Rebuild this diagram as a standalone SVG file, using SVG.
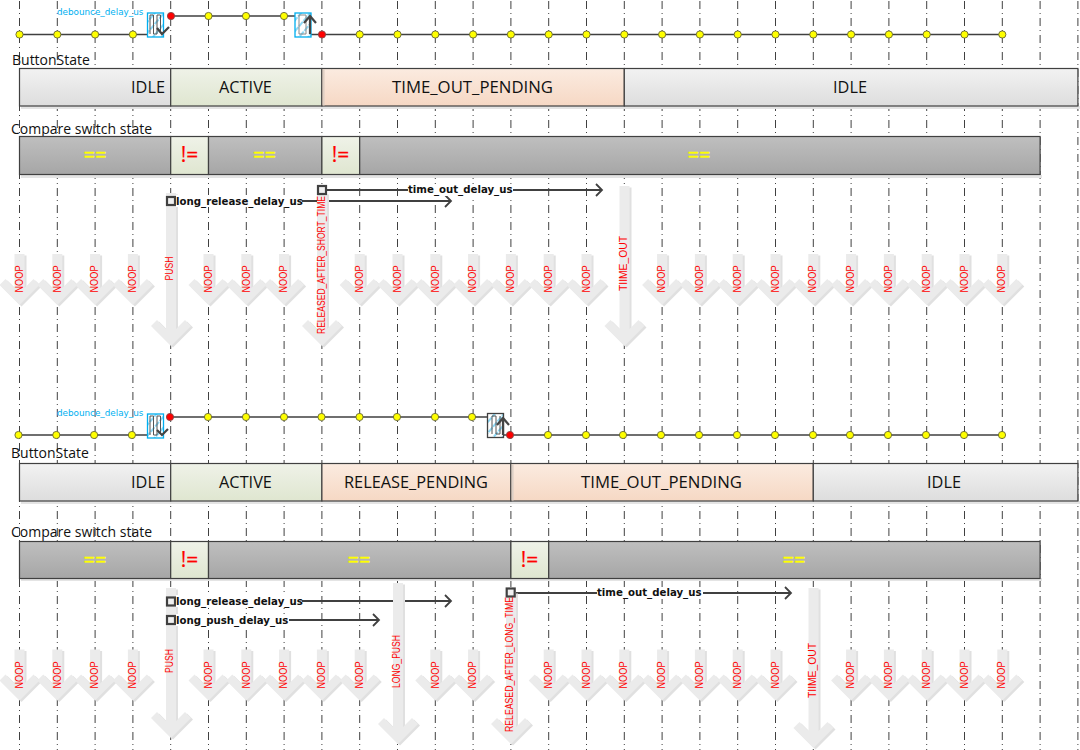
<svg xmlns="http://www.w3.org/2000/svg" width="1080" height="750" viewBox="0 0 1080 750">
<style>
.grid{stroke:#404040;stroke-width:1;stroke-dasharray:8 4 1 4;fill:none}
.seg{stroke:#404040;stroke-width:1.2}
.sig{stroke:#404040;stroke-width:1.3;fill:none}
.st{font:16.3px "Open Sans",sans-serif;fill:#111;text-anchor:middle}
.ttl{font:14px "Open Sans",sans-serif;fill:#111}
.cmpY{font:20px "Open Sans",sans-serif;fill:#ffff00;stroke:#ffff00;stroke-width:.4;text-anchor:middle}
.cmpR{font:21px "Open Sans",sans-serif;fill:#ff0000;stroke:#ff0000;stroke-width:.2;text-anchor:middle}
.dl{font:bold 10.2px "DejaVu Sans",sans-serif;fill:#111}
.lb{fill:#fff;stroke:none}
.ev{font:10px "Liberation Sans",sans-serif;fill:#ff0000;text-anchor:middle}
.deb{font:8.8px "DejaVu Sans",sans-serif;fill:#00b0f0}
.y{fill:#ffff00;stroke:#666633;stroke-width:.9}
.r{fill:#ff0000;stroke:#884444;stroke-width:.9}
.tri{fill:url(#hat);stroke:#00aeef;stroke-width:1.3}
.gl{fill:none;stroke:#555;stroke-width:1}
.ar{fill:none;stroke:#444;stroke-width:2.2}
.sq{fill:#f0f0f0;stroke:#404040;stroke-width:2.2}
.dline{stroke:#404040;stroke-width:1.8;fill:none;marker-end:url(#oh)}
.aS{fill:#e0e0e0}
.aM{fill:#ebebeb}
.shd{fill:#e4e4e4}
</style>
<defs>
<linearGradient id="gG" x1="0" y1="0" x2="0" y2="1"><stop offset="0" stop-color="#f2f2f2"/><stop offset="1" stop-color="#dddddd"/></linearGradient>
<linearGradient id="gV" x1="0" y1="0" x2="0" y2="1"><stop offset="0" stop-color="#eff2e8"/><stop offset="1" stop-color="#dfe6d0"/></linearGradient>
<linearGradient id="gO" x1="0" y1="0" x2="0" y2="1"><stop offset="0" stop-color="#fbebe0"/><stop offset="1" stop-color="#f6d8c4"/></linearGradient>
<linearGradient id="gD" x1="0" y1="0" x2="0" y2="1"><stop offset="0" stop-color="#bfbfbf"/><stop offset="1" stop-color="#a6a6a6"/></linearGradient>
<pattern id="hat" width="7" height="7" patternUnits="userSpaceOnUse" patternTransform="rotate(40)"><rect width="7" height="7" fill="#fff"/><line x1="1" y1="0" x2="1" y2="7" stroke="#5cc8f2" stroke-width="1.4" stroke-dasharray="3 1"/></pattern>
<marker id="oh" markerUnits="userSpaceOnUse" markerWidth="12" markerHeight="14" refX="9" refY="7" orient="auto"><path d="M3,1 L9,7 L3,13" fill="none" stroke="#404040" stroke-width="1.8"/></marker>
<g id="noop"><path class="aS" transform="translate(2,1.5)" d="M-5,-51H5V-17L14,-26L20,-20L0,0L-20,-20L-14,-26L-5,-17Z"/><path class="aM" d="M-5,-51H5V-17L14,-26L20,-20L0,0L-20,-20L-14,-26L-5,-17Z"/></g>
</defs>
<rect width="1080" height="750" fill="#fff"/>
<g id="grid">
<path class="grid" d="M19.5,1V750M57.3,1V750M95.1,1V750M132.9,1V750M170.7,1V750M208.5,1V750M246.3,1V750M284.1,1V750M321.9,1V750M359.7,1V750M397.5,1V750M435.3,1V750M473.1,1V750M510.9,1V750M548.7,1V750M586.5,1V750M624.3,1V750M662.1,1V750M699.9,1V750M737.7,1V750M775.5,1V750M813.3,1V750M851.1,1V750M888.9,1V750M926.7,1V750M964.5,1V750M1002.3,1V750M1040.1,1V750M1077.9,1V750"/>
</g>
<g id="connectors">
<path class="sig" d="M19,34.5H148M171,16H295M310,34.5H1002"/>
<path class="sig" d="M18,435H148M170,417H488M503,435H1002"/>
<path class="dline" d="M326,190H602"/>
<path class="dline" d="M175,201H451"/>
<path class="dline" d="M175,601H451"/>
<path class="dline" d="M175,620H379"/>
<path class="dline" d="M514,593H791"/>
</g>
<g id="pulse-top-1"><rect class="tri" x="147.5" y="13" width="16" height="24"/><path class="gl" d="M150,34V15H153.5V34H157V15H160.500V32"/><path class="ar" d="M157,28L162,34L169,27"/></g>
<g id="pulse-top-2"><rect class="tri" x="295" y="13" width="16" height="24"/><path class="gl" style="stroke:#888" d="M299,15H306V34H299Z"/><path class="ar" d="M310,34V16M304,23L310,16L316,23"/></g>
<g id="pulse-bot-1"><rect class="tri" x="147.5" y="414" width="16" height="24"/><path class="gl" d="M150,435V416H153.5V435H157V416H160.5V433"/><path class="ar" d="M157,430L162,435L168,429"/></g>
<g id="pulse-bot-2"><rect class="tri" style="stroke:#404040" x="487.5" y="413.500" width="16" height="24"/><path class="gl" d="M492,434V416H496V434H500V416"/><path class="ar" d="M503,435V418M497,425L503,418L509,425"/></g>
<g id="dots-top"><circle class="y" cx="19.500" cy="34.500" r="3.600"/><circle class="y" cx="57.300" cy="34.500" r="3.600"/><circle class="y" cx="95.100" cy="34.500" r="3.600"/><circle class="y" cx="132.900" cy="34.500" r="3.600"/><circle class="r" cx="171" cy="16" r="3.600"/><circle class="y" cx="208.500" cy="16" r="3.600"/><circle class="y" cx="246" cy="16" r="3.600"/><circle class="y" cx="284" cy="16" r="3.600"/><circle class="r" cx="322" cy="34.500" r="3.600"/><circle class="y" cx="359.700" cy="34.500" r="3.600"/><circle class="y" cx="397.500" cy="34.500" r="3.600"/><circle class="y" cx="435.300" cy="34.500" r="3.600"/><circle class="y" cx="473.100" cy="34.500" r="3.600"/><circle class="y" cx="510.900" cy="34.500" r="3.600"/><circle class="y" cx="548.700" cy="34.500" r="3.600"/><circle class="y" cx="586.500" cy="34.500" r="3.600"/><circle class="y" cx="624.300" cy="34.500" r="3.600"/><circle class="y" cx="662.100" cy="34.500" r="3.600"/><circle class="y" cx="699.900" cy="34.500" r="3.600"/><circle class="y" cx="737.700" cy="34.500" r="3.600"/><circle class="y" cx="775.500" cy="34.500" r="3.600"/><circle class="y" cx="813.300" cy="34.500" r="3.600"/><circle class="y" cx="851.100" cy="34.500" r="3.600"/><circle class="y" cx="888.900" cy="34.500" r="3.600"/><circle class="y" cx="926.700" cy="34.500" r="3.600"/><circle class="y" cx="964.500" cy="34.500" r="3.600"/><circle class="y" cx="1002.300" cy="34.500" r="3.600"/></g>
<g id="dots-bottom"><circle class="y" cx="18.500" cy="435" r="3.600"/><circle class="y" cx="56.300" cy="435" r="3.600"/><circle class="y" cx="94.100" cy="435" r="3.600"/><circle class="y" cx="131.900" cy="435" r="3.600"/><circle class="r" cx="170" cy="417" r="3.600"/><circle class="y" cx="208" cy="417" r="3.600"/><circle class="y" cx="246" cy="417" r="3.600"/><circle class="y" cx="284" cy="417" r="3.600"/><circle class="y" cx="321.500" cy="417" r="3.600"/><circle class="y" cx="359.500" cy="417" r="3.600"/><circle class="y" cx="397" cy="417" r="3.600"/><circle class="y" cx="435" cy="417" r="3.600"/><circle class="y" cx="472" cy="417" r="3.600"/><circle class="r" cx="510" cy="435" r="3.600"/><circle class="y" cx="548" cy="435" r="3.600"/><circle class="y" cx="586" cy="435" r="3.600"/><circle class="y" cx="623" cy="435" r="3.600"/><circle class="y" cx="661" cy="435" r="3.600"/><circle class="y" cx="699" cy="435" r="3.600"/><circle class="y" cx="737" cy="435" r="3.600"/><circle class="y" cx="775" cy="435" r="3.600"/><circle class="y" cx="813" cy="435" r="3.600"/><circle class="y" cx="850" cy="435" r="3.600"/><circle class="y" cx="888" cy="435" r="3.600"/><circle class="y" cx="926" cy="435" r="3.600"/><circle class="y" cx="964" cy="435" r="3.600"/><circle class="y" cx="1002" cy="435" r="3.600"/></g>
<text class="deb" x="57" y="14.500">debounce_delay_us</text>
<text class="deb" x="57" y="416">debounce_delay_us</text>
<text class="ttl" x="12" y="64.500">ButtonState</text>
<text class="ttl" x="11" y="134">Compare switch state</text>
<text class="ttl" x="11" y="457.500">ButtonState</text>
<text class="ttl" x="11" y="537">Compare switch state</text>
<rect class="shd" x="21" y="106" width="1059" height="3"/><rect class="shd" x="21" y="175" width="1021" height="3"/><rect class="shd" x="21" y="501" width="1059" height="3"/><rect class="shd" x="21" y="578" width="1021" height="3"/>
<g id="state-top-idle1"><rect class="seg" x="19.500" y="68.500" width="151.200" height="37.500" fill="url(#gG)"/><text class="st" x="148" y="93">IDLE</text></g>
<g id="state-top-active"><rect class="seg" x="170.700" y="68.500" width="151.200" height="37.500" fill="url(#gV)"/><text class="st" x="245.500" y="93">ACTIVE</text></g>
<g id="state-top-pending"><rect class="seg" x="321.900" y="68.500" width="302.400" height="37.500" fill="url(#gO)"/><rect x="322.600" y="69" width="2" height="36.500" fill="#e0d0c4"/><text class="st" x="472.500" y="93" textLength="161" lengthAdjust="spacingAndGlyphs">TIME_OUT_PENDING</text></g>
<g id="state-top-idle2"><rect class="seg" x="624.300" y="68.500" width="453.600" height="37.500" fill="url(#gG)"/><text class="st" x="850" y="93">IDLE</text></g>
<g id="cmp-top-1"><rect class="seg" x="19.500" y="136.500" width="151.200" height="38" fill="url(#gD)"/><text class="cmpY" x="95" y="162">==</text></g>
<g id="cmp-top-2"><rect class="seg" x="170.700" y="136.500" width="37.800" height="38" fill="url(#gV)"/><text class="cmpR" x="189.500" y="162">!=</text></g>
<g id="cmp-top-3"><rect class="seg" x="208.500" y="136.500" width="113.400" height="38" fill="url(#gD)"/><text class="cmpY" x="264.500" y="162">==</text></g>
<g id="cmp-top-4"><rect class="seg" x="321.900" y="136.500" width="37.800" height="38" fill="url(#gV)"/><text class="cmpR" x="340.500" y="162">!=</text></g>
<g id="cmp-top-5"><rect class="seg" x="359.700" y="136.500" width="680.400" height="38" fill="url(#gD)"/><text class="cmpY" x="699" y="162">==</text></g>
<g id="state-bot-idle1"><rect class="seg" x="19.500" y="463.500" width="151.200" height="37.500" fill="url(#gG)"/><text class="st" x="148" y="488">IDLE</text></g>
<g id="state-bot-active"><rect class="seg" x="170.700" y="463.500" width="151.200" height="37.500" fill="url(#gV)"/><text class="st" x="245.500" y="488">ACTIVE</text></g>
<g id="state-bot-release"><rect class="seg" x="321.900" y="463.500" width="189" height="37.500" fill="url(#gO)"/><text class="st" x="416" y="488" textLength="144" lengthAdjust="spacingAndGlyphs">RELEASE_PENDING</text></g>
<g id="state-bot-timeout"><rect class="seg" x="510.900" y="463.500" width="302.400" height="37.500" fill="url(#gO)"/><rect x="511.600" y="464" width="2" height="36.500" fill="#ddd0c6"/><text class="st" x="661.500" y="488" textLength="161" lengthAdjust="spacingAndGlyphs">TIME_OUT_PENDING</text></g>
<g id="state-bot-idle2"><rect class="seg" x="813.300" y="463.500" width="264.600" height="37.500" fill="url(#gG)"/><text class="st" x="944" y="488">IDLE</text></g>
<g id="cmp-bot-1"><rect class="seg" x="19.500" y="541.500" width="151.200" height="37" fill="url(#gD)"/><text class="cmpY" x="95" y="567">==</text></g>
<g id="cmp-bot-2"><rect class="seg" x="170.700" y="541.500" width="37.800" height="37" fill="url(#gV)"/><text class="cmpR" x="189.500" y="567">!=</text></g>
<g id="cmp-bot-3"><rect class="seg" x="208.500" y="541.500" width="302.400" height="37" fill="url(#gD)"/><text class="cmpY" x="359" y="567">==</text></g>
<g id="cmp-bot-4"><rect class="seg" x="510.900" y="541.500" width="37.800" height="37" fill="url(#gV)"/><text class="cmpR" x="529.500" y="567">!=</text></g>
<g id="cmp-bot-5"><rect class="seg" x="548.700" y="541.500" width="491.400" height="37" fill="url(#gD)"/><text class="cmpY" x="794" y="567">==</text></g>
<g id="events-top">
<use href="#noop" x="19.500" y="305"/><use href="#noop" x="57.300" y="305"/><use href="#noop" x="95.100" y="305"/><use href="#noop" x="132.900" y="305"/><use href="#noop" x="208.500" y="305"/><use href="#noop" x="246.300" y="305"/><use href="#noop" x="284.100" y="305"/><use href="#noop" x="359.700" y="305"/><use href="#noop" x="397.500" y="305"/><use href="#noop" x="435.300" y="305"/><use href="#noop" x="473.100" y="305"/><use href="#noop" x="510.900" y="305"/><use href="#noop" x="548.700" y="305"/><use href="#noop" x="586.500" y="305"/><use href="#noop" x="662.100" y="305"/><use href="#noop" x="699.900" y="305"/><use href="#noop" x="737.700" y="305"/><use href="#noop" x="775.500" y="305"/><use href="#noop" x="813.300" y="305"/><use href="#noop" x="851.100" y="305"/><use href="#noop" x="888.900" y="305"/><use href="#noop" x="926.700" y="305"/><use href="#noop" x="964.500" y="305"/><use href="#noop" x="1002.300" y="305"/>
<g transform="translate(171,346)"><path class="aS" transform="translate(2,1.500)" d="M-5,-153H5V-17L14,-26L20,-20L0,0L-20,-20L-14,-26L-5,-17Z"/><path class="aM" d="M-5,-153H5V-17L14,-26L20,-20L0,0L-20,-20L-14,-26L-5,-17Z"/></g>
<g transform="translate(322,346)"><path class="aS" transform="translate(2,1.500)" d="M-5,-153H5V-17L14,-26L20,-20L0,0L-20,-20L-14,-26L-5,-17Z"/><path class="aM" d="M-5,-153H5V-17L14,-26L20,-20L0,0L-20,-20L-14,-26L-5,-17Z"/></g>
<g transform="translate(624.500,346)"><path class="aS" transform="translate(2,1.500)" d="M-5,-160H5V-17L14,-26L20,-20L0,0L-20,-20L-14,-26L-5,-17Z"/><path class="aM" d="M-5,-160H5V-17L14,-26L20,-20L0,0L-20,-20L-14,-26L-5,-17Z"/></g>
</g>
<g id="events-bottom">
<use href="#noop" x="19.500" y="700.500"/><use href="#noop" x="57.300" y="700.500"/><use href="#noop" x="95.100" y="700.500"/><use href="#noop" x="132.900" y="700.500"/><use href="#noop" x="208.500" y="700.500"/><use href="#noop" x="246.300" y="700.500"/><use href="#noop" x="284.100" y="700.500"/><use href="#noop" x="321.900" y="700.500"/><use href="#noop" x="359.700" y="700.500"/><use href="#noop" x="435.300" y="700.500"/><use href="#noop" x="473.100" y="700.500"/><use href="#noop" x="548.700" y="700.500"/><use href="#noop" x="586.500" y="700.500"/><use href="#noop" x="624.300" y="700.500"/><use href="#noop" x="662.100" y="700.500"/><use href="#noop" x="699.900" y="700.500"/><use href="#noop" x="737.700" y="700.500"/><use href="#noop" x="775.500" y="700.500"/><use href="#noop" x="851.100" y="700.500"/><use href="#noop" x="888.900" y="700.500"/><use href="#noop" x="926.700" y="700.500"/><use href="#noop" x="964.500" y="700.500"/><use href="#noop" x="1002.300" y="700.500"/>
<g transform="translate(171,738)"><path class="aS" transform="translate(2,1.500)" d="M-5,-150H5V-17L14,-26L20,-20L0,0L-20,-20L-14,-26L-5,-17Z"/><path class="aM" d="M-5,-150H5V-17L14,-26L20,-20L0,0L-20,-20L-14,-26L-5,-17Z"/></g>
<g transform="translate(398,744)"><path class="aS" transform="translate(2,1.500)" d="M-5,-161H5V-17L14,-26L20,-20L0,0L-20,-20L-14,-26L-5,-17Z"/><path class="aM" d="M-5,-161H5V-17L14,-26L20,-20L0,0L-20,-20L-14,-26L-5,-17Z"/></g>
<g transform="translate(511,744)"><path class="aS" transform="translate(2,1.500)" d="M-5,-152H5V-17L14,-26L20,-20L0,0L-20,-20L-14,-26L-5,-17Z"/><path class="aM" d="M-5,-152H5V-17L14,-26L20,-20L0,0L-20,-20L-14,-26L-5,-17Z"/></g>
<g transform="translate(813.500,748)"><path class="aS" transform="translate(2,1.500)" d="M-5,-160H5V-17L14,-26L20,-20L0,0L-20,-20L-14,-26L-5,-17Z"/><path class="aM" d="M-5,-160H5V-17L14,-26L20,-20L0,0L-20,-20L-14,-26L-5,-17Z"/></g>
</g>
<g id="delay-top-timeout"><rect class="sq" x="318" y="186" width="8" height="8"/><rect class="lb" x="408" y="184" width="105" height="12"/><text class="dl" x="408" y="193">time_out_delay_us</text></g>
<g id="delay-top-release"><rect class="sq" x="167" y="197" width="8" height="8"/><rect class="lb" x="176" y="195" width="126" height="12"/><text class="dl" x="176" y="204.500">long_release_delay_us</text></g>
<g id="delay-bot-release"><rect class="sq" x="167" y="597.500" width="8" height="8"/><rect class="lb" x="176" y="595" width="126" height="12"/><text class="dl" x="176" y="604.500">long_release_delay_us</text></g>
<g id="delay-bot-push"><rect class="sq" x="167" y="616" width="8" height="8"/><rect class="lb" x="176" y="614" width="113" height="12"/><text class="dl" x="176" y="623.500">long_push_delay_us</text></g>
<g id="delay-bot-timeout"><rect class="sq" x="506.700" y="588.500" width="8" height="8"/><rect class="lb" x="597" y="587" width="106" height="12"/><text class="dl" x="597" y="596">time_out_delay_us</text></g>
<g id="event-labels">
<text class="ev" textLength="27" lengthAdjust="spacingAndGlyphs" transform="translate(22.500,279) rotate(-90)">NOOP</text><text class="ev" textLength="27" lengthAdjust="spacingAndGlyphs" transform="translate(60.500,279) rotate(-90)">NOOP</text><text class="ev" textLength="27" lengthAdjust="spacingAndGlyphs" transform="translate(98,279) rotate(-90)">NOOP</text><text class="ev" textLength="27" lengthAdjust="spacingAndGlyphs" transform="translate(136,279) rotate(-90)">NOOP</text><text class="ev" textLength="27" lengthAdjust="spacingAndGlyphs" transform="translate(211.500,279) rotate(-90)">NOOP</text><text class="ev" textLength="27" lengthAdjust="spacingAndGlyphs" transform="translate(249.500,279) rotate(-90)">NOOP</text><text class="ev" textLength="27" lengthAdjust="spacingAndGlyphs" transform="translate(287,279) rotate(-90)">NOOP</text><text class="ev" textLength="27" lengthAdjust="spacingAndGlyphs" transform="translate(362.500,279) rotate(-90)">NOOP</text><text class="ev" textLength="27" lengthAdjust="spacingAndGlyphs" transform="translate(400.500,279) rotate(-90)">NOOP</text><text class="ev" textLength="27" lengthAdjust="spacingAndGlyphs" transform="translate(438.500,279) rotate(-90)">NOOP</text><text class="ev" textLength="27" lengthAdjust="spacingAndGlyphs" transform="translate(476,279) rotate(-90)">NOOP</text><text class="ev" textLength="27" lengthAdjust="spacingAndGlyphs" transform="translate(513.500,279) rotate(-90)">NOOP</text><text class="ev" textLength="27" lengthAdjust="spacingAndGlyphs" transform="translate(551.500,279) rotate(-90)">NOOP</text><text class="ev" textLength="27" lengthAdjust="spacingAndGlyphs" transform="translate(589.500,279) rotate(-90)">NOOP</text><text class="ev" textLength="27" lengthAdjust="spacingAndGlyphs" transform="translate(665,279) rotate(-90)">NOOP</text><text class="ev" textLength="27" lengthAdjust="spacingAndGlyphs" transform="translate(702.500,279) rotate(-90)">NOOP</text><text class="ev" textLength="27" lengthAdjust="spacingAndGlyphs" transform="translate(740.500,279) rotate(-90)">NOOP</text><text class="ev" textLength="27" lengthAdjust="spacingAndGlyphs" transform="translate(778.500,279) rotate(-90)">NOOP</text><text class="ev" textLength="27" lengthAdjust="spacingAndGlyphs" transform="translate(816,279) rotate(-90)">NOOP</text><text class="ev" textLength="27" lengthAdjust="spacingAndGlyphs" transform="translate(854,279) rotate(-90)">NOOP</text><text class="ev" textLength="27" lengthAdjust="spacingAndGlyphs" transform="translate(891.500,279) rotate(-90)">NOOP</text><text class="ev" textLength="27" lengthAdjust="spacingAndGlyphs" transform="translate(929.500,279) rotate(-90)">NOOP</text><text class="ev" textLength="27" lengthAdjust="spacingAndGlyphs" transform="translate(967.500,279) rotate(-90)">NOOP</text><text class="ev" textLength="27" lengthAdjust="spacingAndGlyphs" transform="translate(1005,279) rotate(-90)">NOOP</text>
<text class="ev" textLength="24" lengthAdjust="spacingAndGlyphs" transform="translate(173,268.500) rotate(-90)">PUSH</text><text class="ev" textLength="138" lengthAdjust="spacingAndGlyphs" transform="translate(325,265) rotate(-90)">RELEASED_AFTER_SHORT_TIME</text><text class="ev" textLength="55" lengthAdjust="spacingAndGlyphs" transform="translate(627,263.500) rotate(-90)">TIIME_OUT</text>
<text class="ev" textLength="27" lengthAdjust="spacingAndGlyphs" transform="translate(22.500,675) rotate(-90)">NOOP</text><text class="ev" textLength="27" lengthAdjust="spacingAndGlyphs" transform="translate(60.500,675) rotate(-90)">NOOP</text><text class="ev" textLength="27" lengthAdjust="spacingAndGlyphs" transform="translate(98,675) rotate(-90)">NOOP</text><text class="ev" textLength="27" lengthAdjust="spacingAndGlyphs" transform="translate(136,675) rotate(-90)">NOOP</text><text class="ev" textLength="27" lengthAdjust="spacingAndGlyphs" transform="translate(211.500,675) rotate(-90)">NOOP</text><text class="ev" textLength="27" lengthAdjust="spacingAndGlyphs" transform="translate(249.500,675) rotate(-90)">NOOP</text><text class="ev" textLength="27" lengthAdjust="spacingAndGlyphs" transform="translate(287,675) rotate(-90)">NOOP</text><text class="ev" textLength="27" lengthAdjust="spacingAndGlyphs" transform="translate(325,675) rotate(-90)">NOOP</text><text class="ev" textLength="27" lengthAdjust="spacingAndGlyphs" transform="translate(362.500,675) rotate(-90)">NOOP</text><text class="ev" textLength="27" lengthAdjust="spacingAndGlyphs" transform="translate(438.500,675) rotate(-90)">NOOP</text><text class="ev" textLength="27" lengthAdjust="spacingAndGlyphs" transform="translate(476,675) rotate(-90)">NOOP</text><text class="ev" textLength="27" lengthAdjust="spacingAndGlyphs" transform="translate(551.500,675) rotate(-90)">NOOP</text><text class="ev" textLength="27" lengthAdjust="spacingAndGlyphs" transform="translate(589.500,675) rotate(-90)">NOOP</text><text class="ev" textLength="27" lengthAdjust="spacingAndGlyphs" transform="translate(627,675) rotate(-90)">NOOP</text><text class="ev" textLength="27" lengthAdjust="spacingAndGlyphs" transform="translate(665,675) rotate(-90)">NOOP</text><text class="ev" textLength="27" lengthAdjust="spacingAndGlyphs" transform="translate(702.500,675) rotate(-90)">NOOP</text><text class="ev" textLength="27" lengthAdjust="spacingAndGlyphs" transform="translate(740.500,675) rotate(-90)">NOOP</text><text class="ev" textLength="27" lengthAdjust="spacingAndGlyphs" transform="translate(778.500,675) rotate(-90)">NOOP</text><text class="ev" textLength="27" lengthAdjust="spacingAndGlyphs" transform="translate(854,675) rotate(-90)">NOOP</text><text class="ev" textLength="27" lengthAdjust="spacingAndGlyphs" transform="translate(891.500,675) rotate(-90)">NOOP</text><text class="ev" textLength="27" lengthAdjust="spacingAndGlyphs" transform="translate(929.500,675) rotate(-90)">NOOP</text><text class="ev" textLength="27" lengthAdjust="spacingAndGlyphs" transform="translate(967.500,675) rotate(-90)">NOOP</text><text class="ev" textLength="27" lengthAdjust="spacingAndGlyphs" transform="translate(1005,675) rotate(-90)">NOOP</text>
<text class="ev" textLength="24" lengthAdjust="spacingAndGlyphs" transform="translate(173,661) rotate(-90)">PUSH</text><text class="ev" textLength="53" lengthAdjust="spacingAndGlyphs" transform="translate(400,661.500) rotate(-90)">LONG_PUSH</text><text class="ev" textLength="135" lengthAdjust="spacingAndGlyphs" transform="translate(513,664.500) rotate(-90)">RELEASED_AFTER_LONG_TIME</text><text class="ev" textLength="55" lengthAdjust="spacingAndGlyphs" transform="translate(816,670.500) rotate(-90)">TIIME_OUT</text>
</g>
</svg>
